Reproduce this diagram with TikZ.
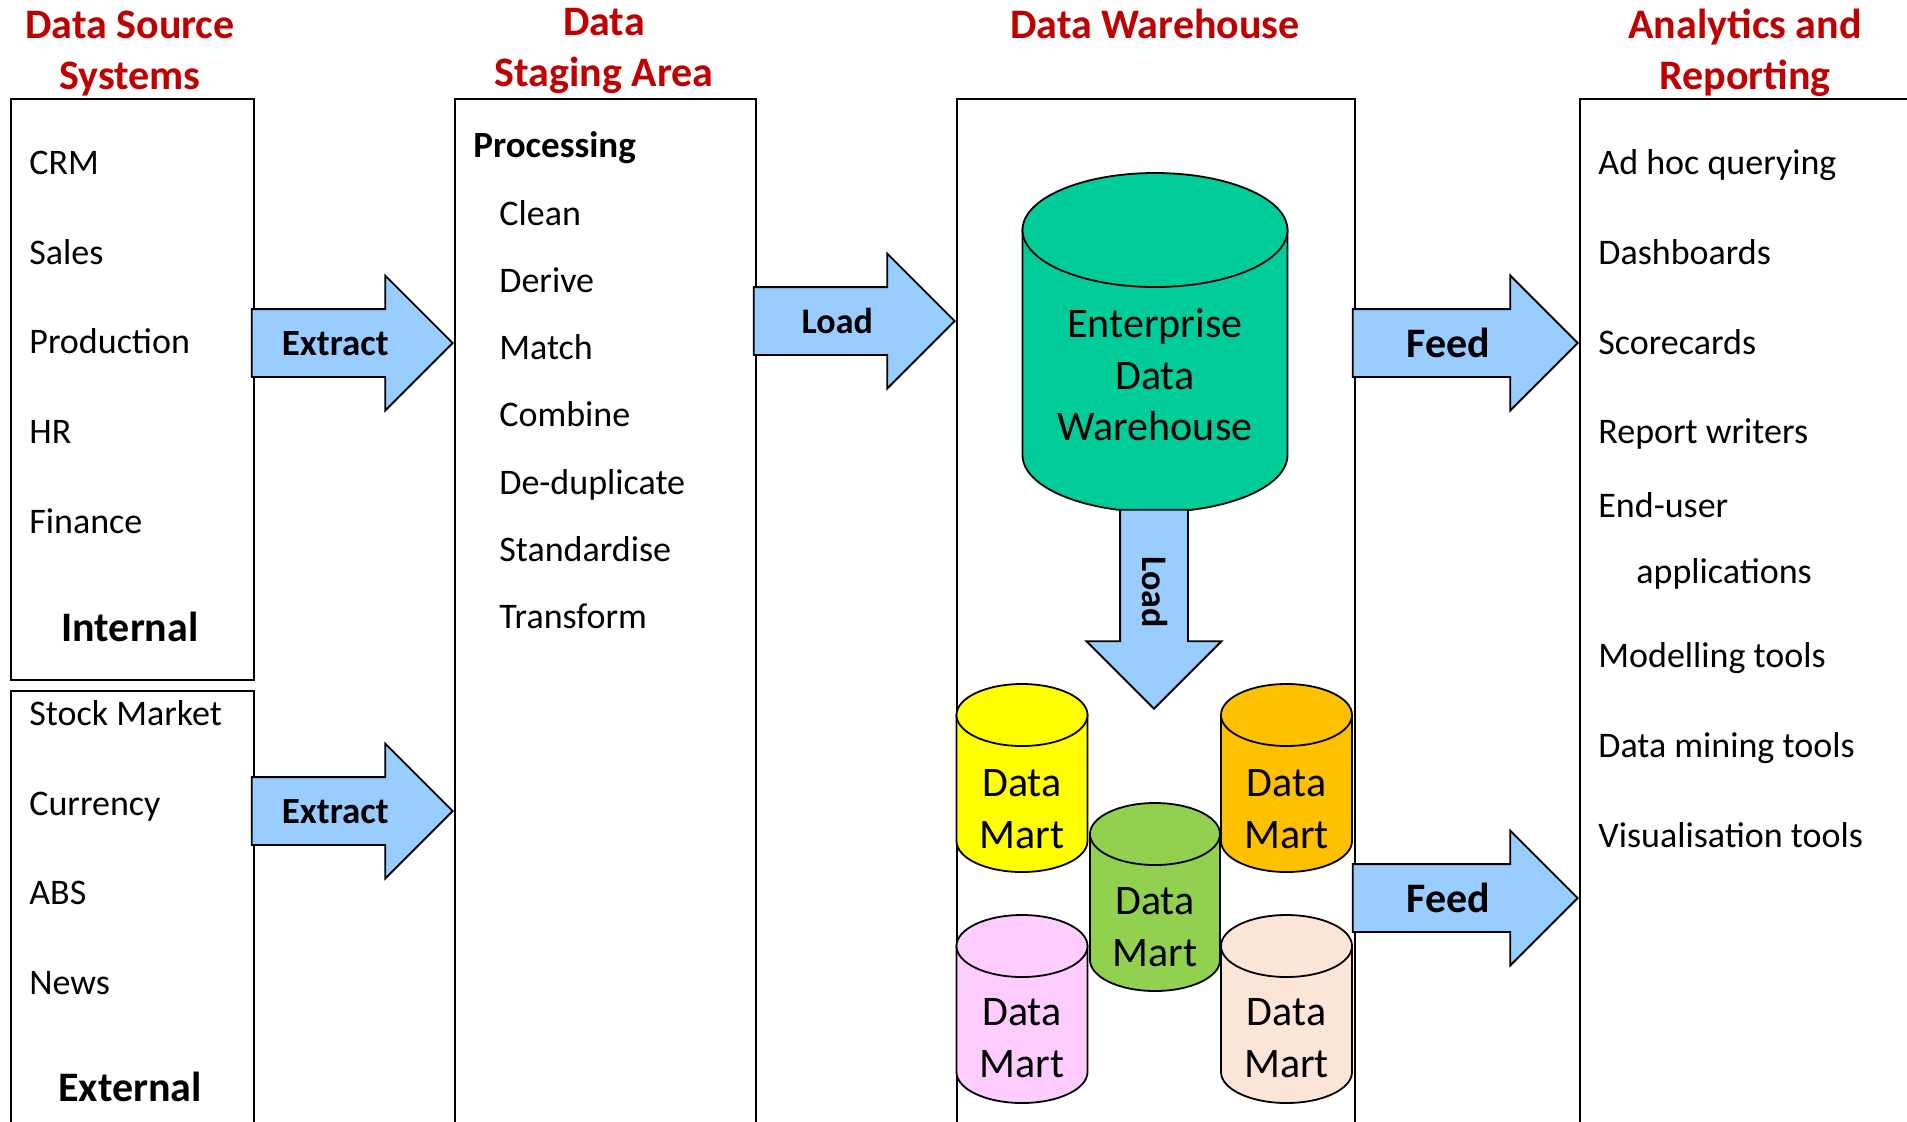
\documentclass[tikz,border=0pt]{standalone}
\usepackage{fontspec}
\setmainfont{Carlito}
\usetikzlibrary{shapes.arrows,positioning}

\definecolor{headred}{HTML}{C00000}
\definecolor{arrowblue}{HTML}{99CCFF}
\definecolor{edwgreen}{HTML}{00CC99}
\definecolor{martyellow}{HTML}{FFFF00}
\definecolor{martorange}{HTML}{FFC000}
\definecolor{martgreen}{HTML}{92D050}
\definecolor{martpink}{HTML}{FFCCFF}
\definecolor{martpeach}{HTML}{FBE5D6}

\tikzset{
  panel/.style={draw, line width=0.9pt, anchor=north west, inner sep=0pt, minimum height=516pt},
  heading/.style={text=headred, font=\fontsize{21}{25.5}\selectfont\bfseries, align=center, anchor=base, inner sep=0pt},
  item/.style={font=\fontsize{18}{21.6}\selectfont, anchor=base west, inner sep=0pt},
  tag/.style={font=\fontsize{21}{25}\selectfont\bfseries, anchor=base, inner sep=0pt},
  flow/.style={single arrow, draw, fill=arrowblue, line width=0.9pt, anchor=tip,
    single arrow head extend=16.75pt, text height=14pt, text depth=2pt,
    inner ysep=8.5pt, inner xsep=0pt, font=\fontsize{18.5}{22}\selectfont\bfseries},
  store/.style={draw, line width=0.9pt},
  storetext/.style={font=\fontsize{21}{25.75}\selectfont, align=center, inner sep=0pt},
}

\begin{document}
\begin{tikzpicture}[x=0.5pt,y=-0.5pt]
  \useasboundingbox (0,0) rectangle (1907,1121);

  % column headings (base = last line)
  \node[heading] (hsrc) at (130,89) {Data Source\\Systems};
  \node[heading] (hstage) at (604,86) {Data\\Staging Area};
  \node[heading] (hdw) at (1155,38) {Data Warehouse};
  \node[heading] (hrep) at (1745,89) {Analytics and\\Reporting};

  % panels
  \node[panel, minimum width=121.5pt, minimum height=290.5pt] (internal) at (10,98) {};
  \node[panel, minimum width=121.5pt, minimum height=220pt] (external) at (10,690) {};
  \node[panel, minimum width=150.5pt] (staging) at (454,98) {};
  \node[panel, minimum width=199pt] (warehouse) at (956,98) {};
  \node[panel, minimum width=170.5pt] (reporting) at (1579,98) {};

  % source systems
  \foreach \txt/\y [count=\i] in {CRM/174, Sales/264, Production/353, HR/443, Finance/533}
    \node[item] (int\i) at (29,\y) {\txt};
  \node[tag] (inttag) at (130,641) {Internal};
  \foreach \txt/\y [count=\i] in {Stock Market/725, Currency/815, ABS/904, News/994}
    \node[item] (ext\i) at (29,\y) {\txt};
  \node[tag] (exttag) at (130,1101) {External};

  % staging steps
  \node[item, font=\fontsize{18.5}{22}\selectfont\bfseries] (proc) at (473,157) {Processing};
  \foreach \txt/\y [count=\i] in {Clean/225, Derive/292, Match/359, Combine/426, De-duplicate/494, Standardise/561, Transform/628}
    \node[item] (step\i) at (499,\y) {\txt};

  % reporting tools
  \foreach \txt/\y [count=\i] in {Ad hoc querying/174, Dashboards/264, Scorecards/354, Report writers/443, End-user/517, Modelling tools/667, Data mining tools/757, Visualisation tools/847}
    \node[item] (tool\i) at (1598,\y) {\txt};
  \node[item] (tool5b) at (1636,583) {applications};

  % warehouse and marts
  \foreach \cx/\yt/\yb/\rx/\ry/\col in {1155/230/455/132.5/57/edwgreen,
      1022/715/841/65.5/31/martyellow, 1286.5/715/841/65.5/31/martorange,
      1155/834/960/65/31/martgreen,
      1022/946/1072/65.5/31/martpink, 1286.5/946/1072/65.5/31/martpeach} {
    \filldraw[store, fill=\col] (\cx-\rx,\yt) -- (\cx-\rx,\yb)
      arc[start angle=180, end angle=0, x radius=\rx, y radius=\ry] -- (\cx+\rx,\yt) -- cycle;
    \filldraw[store, fill=\col] (\cx,\yt) ellipse [x radius=\rx, y radius=\ry];
  }
  \node[storetext] (edw) at (1155,375) {Enterprise\\Data\\Warehouse};
  \node[storetext] (mart1) at (1022,809) {Data\\Mart};
  \node[storetext] (mart2) at (1286.5,809) {Data\\Mart};
  \node[storetext] (mart3) at (1155,927) {Data\\Mart};
  \node[storetext] (mart4) at (1022,1038) {Data\\Mart};
  \node[storetext] (mart5) at (1286.5,1038) {Data\\Mart};

  % flows
  \node[flow, minimum height=100.5pt] (extract1) at (staging.west |- 0,343) {Extract};
  \node[flow, minimum height=100.5pt] (extract2) at (staging.west |- 0,811) {Extract};
  \node[flow, minimum height=100.5pt, font=\fontsize{18}{22}\selectfont\bfseries] (load1) at (warehouse.west |- 0,321) {Load};
  \node[flow, minimum height=112.5pt, text height=15pt, text depth=1pt, font=\fontsize{21}{25}\selectfont\bfseries] (feed1) at (reporting.west |- 0,343) {Feed};
  \node[flow, minimum height=112.5pt, text height=15pt, text depth=1pt, font=\fontsize{21}{25}\selectfont\bfseries] (feed2) at (reporting.west |- 0,898) {Feed};
  \node[flow, minimum height=99.5pt, rotate=-90, font=\fontsize{18}{22}\selectfont\bfseries] (load2) at (1154,710) {Load};
\end{tikzpicture}
\end{document}
